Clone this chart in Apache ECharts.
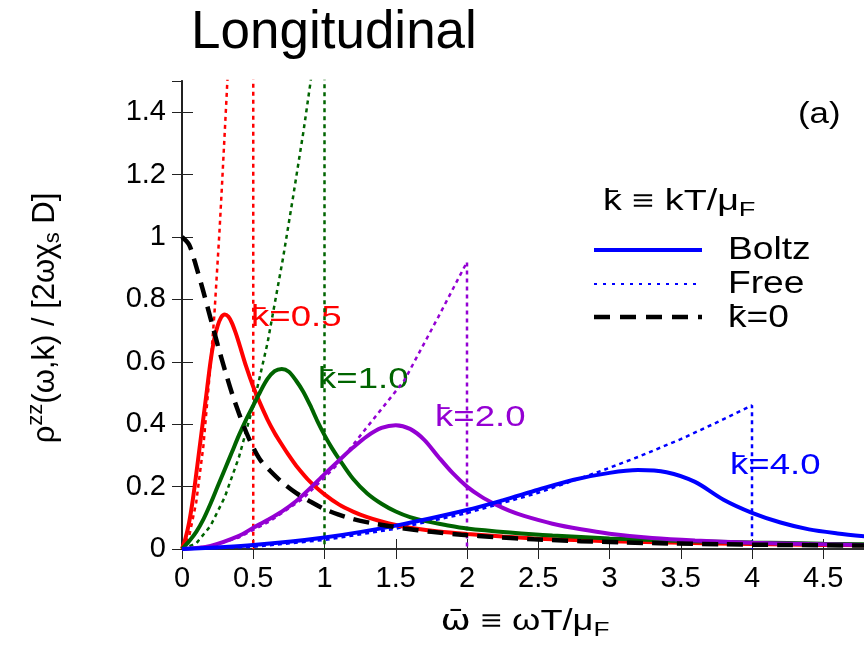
<!DOCTYPE html>
<html>
<head>
<meta charset="utf-8">
<script src="https://cdn.jsdelivr.net/npm/echarts@6/dist/echarts.min.js"></script>
<style>html,body{margin:0;padding:0;background:#fff}#c{width:864px;height:652px}</style>
</head>
<body>
<div id="c"></div>
<script>
// ---- data (x = omega-bar, y = normalized response) ----
const xTicks = [0, 0.5, 1, 1.5, 2, 2.5, 3, 3.5, 4, 4.5];
const yTicks = [0, 0.2, 0.4, 0.6, 0.8, 1, 1.2, 1.4];

const kZero = [[0,1.0],[0.05,0.975],[0.1,0.905],[0.15,0.825],[0.2,0.74],[0.25,0.655],[0.3,0.575],[0.35,0.5],[0.4,0.434],[0.45,0.375],[0.5,0.325],[0.55,0.285],[0.62,0.25],[0.7,0.215],[0.8,0.18],[0.9,0.152],[1.0,0.128],[1.1,0.11],[1.2,0.096],[1.32,0.084],[1.45,0.074],[1.56,0.066],[1.75,0.055],[1.96,0.046],[2.2,0.038],[2.47,0.031],[2.8,0.025],[3.1,0.021],[3.41,0.018],[3.8,0.015],[4.2,0.013],[4.8,0.011]];

const boltz05 = [[0,0],[0.025,0.035],[0.05,0.085],[0.075,0.155],[0.1,0.24],[0.125,0.33],[0.15,0.42],[0.175,0.51],[0.2,0.6],[0.225,0.67],[0.25,0.715],[0.275,0.743],[0.3,0.752],[0.325,0.745],[0.35,0.725],[0.375,0.695],[0.4,0.66],[0.45,0.585],[0.5,0.52],[0.55,0.465],[0.6,0.415],[0.65,0.372],[0.7,0.335],[0.75,0.3],[0.8,0.268],[0.9,0.215],[1.0,0.175],[1.1,0.143],[1.2,0.12],[1.3,0.102],[1.4,0.088],[1.5,0.077],[1.6,0.068],[1.8,0.056],[2.0,0.048],[2.25,0.04],[2.5,0.033],[3.0,0.025],[3.5,0.02],[4.0,0.016],[4.5,0.013],[4.8,0.012]];
const free05 = [[0,0],[0.05,0.04],[0.1,0.15],[0.15,0.33],[0.2,0.59],[0.227,0.75],[0.262,1.01],[0.28,1.16],[0.314,1.46],[0.35,1.8],[0.4,2.35],[0.45,3.0],[0.5,3.7],[0.5,0]];

const boltz10 = [[0,0],[0.05,0.025],[0.1,0.055],[0.15,0.095],[0.2,0.145],[0.25,0.2],[0.3,0.255],[0.35,0.31],[0.4,0.365],[0.45,0.415],[0.5,0.46],[0.55,0.505],[0.6,0.545],[0.65,0.57],[0.7,0.577],[0.75,0.568],[0.8,0.54],[0.85,0.505],[0.9,0.46],[0.95,0.41],[1.0,0.365],[1.05,0.325],[1.1,0.29],[1.2,0.225],[1.3,0.178],[1.4,0.145],[1.5,0.12],[1.6,0.102],[1.7,0.09],[1.85,0.077],[2.0,0.066],[2.3,0.053],[2.6,0.043],[3.0,0.034],[3.5,0.026],[4.0,0.021],[4.5,0.017],[4.8,0.015]];
const free10 = [[0,0],[0.1,0.018],[0.2,0.074],[0.3,0.166],[0.4,0.295],[0.5,0.46],[0.6,0.66],[0.71,0.935],[0.78,1.13],[0.853,1.34],[0.9,1.49],[0.95,1.66],[1.0,1.84],[1.0,0]];

const boltz20 = [[0,0],[0.2,0.01],[0.4,0.042],[0.5,0.068],[0.6,0.093],[0.7,0.12],[0.8,0.153],[0.9,0.195],[1.0,0.24],[1.1,0.283],[1.2,0.325],[1.3,0.362],[1.4,0.388],[1.5,0.397],[1.6,0.385],[1.7,0.35],[1.8,0.295],[1.9,0.243],[2.0,0.2],[2.1,0.168],[2.2,0.143],[2.3,0.122],[2.4,0.106],[2.6,0.081],[2.8,0.063],[3.0,0.049],[3.3,0.035],[3.6,0.027],[4.0,0.02],[4.4,0.016],[4.8,0.013]];
const free20 = [[0,0],[0.2,0.009],[0.4,0.037],[0.62,0.09],[0.85,0.162],[1.09,0.27],[1.28,0.38],[1.56,0.54],[1.8,0.745],[2.0,0.92],[2.0,0]];

const boltz40 = [[0,0],[0.5,0.013],[1.0,0.037],[1.5,0.075],[2.0,0.125],[2.25,0.156],[2.5,0.19],[2.75,0.222],[3.0,0.244],[3.2,0.253],[3.4,0.246],[3.6,0.215],[3.8,0.158],[4.0,0.116],[4.2,0.085],[4.4,0.063],[4.6,0.05],[4.8,0.04]];
const free40 = [[0,0],[0.5,0.007],[1.0,0.029],[1.5,0.065],[2.0,0.115],[2.5,0.18],[2.94,0.25],[3.2,0.295],[3.5,0.352],[3.75,0.405],[4.0,0.46],[4.0,0]];

const curveLabels = ['k\u0304=0.5', 'k\u0304=1.0', 'k\u0304=2.0', 'k\u0304=4.0'];
const legendLabels = ['Boltz', 'Free', 'k\u0304=0'];

// ---- chart ----
const RED = '#ff0000', GREEN = '#006400', PURPLE = '#9400d3', BLUE = '#0000ff';
const FONT = '"Liberation Sans", Arial, sans-serif';
const DV = '"DejaVu Sans", sans-serif';
const chart = echarts.init(document.getElementById('c'), null, {renderer: 'canvas'});

function solid(data, color, z) {
  return {type: 'line', data, showSymbol: false, smooth: 0.3, clip: true, z,
    lineStyle: {color, width: 4}, silent: true};
}
function dotted(data, color, z) {
  return {type: 'line', data, showSymbol: false, smooth: false, clip: true, z,
    lineStyle: {color, width: 2.5, type: [4, 4]}, silent: true};
}
function label(x, y, text, color, size, sx) {
  return {type: 'text', x, y, scaleX: sx, silent: true,
    style: {text, font: size + 'px ' + FONT, fill: color, verticalAlign: 'middle'}};
}

const axisLineStyle = {color: '#222', width: 1.5};
const option = {
  animation: false,
  backgroundColor: '#fff',
  grid: {left: 182, right: -2, top: 81, bottom: 103, containLabel: false, outerBoundsMode: 'none'},
  xAxis: [{
    type: 'value', min: 0, max: 4.8, interval: 0.5, position: 'bottom',
    axisLine: {show: true, lineStyle: axisLineStyle},
    axisTick: {show: true, inside: true, length: 10, lineStyle: {color: '#222', width: 1}},
    splitLine: {show: false},
    axisLabel: {fontSize: 29, color: '#000', fontFamily: FONT, margin: 15, showMaxLabel: false}
  }, {
    type: 'value', min: 0, max: 4.8, interval: 0.5, position: 'top',
    axisLine: {show: true, lineStyle: axisLineStyle},
    axisTick: {show: true, inside: true, length: 10, lineStyle: {color: '#222', width: 1}},
    splitLine: {show: false}, axisLabel: {show: false}
  }],
  yAxis: [{
    type: 'value', min: 0, max: 1.5, interval: 0.2, position: 'left',
    axisLine: {show: true, lineStyle: {color: '#222', width: 2}},
    axisTick: {show: true, inside: true, length: 11, lineStyle: {color: '#222', width: 1}},
    splitLine: {show: false},
    axisLabel: {fontSize: 29, color: '#000', fontFamily: FONT, margin: 16, showMaxLabel: false}
  }, {
    type: 'value', min: 0, max: 1.5, interval: 0.2, position: 'right',
    axisLine: {show: true, lineStyle: axisLineStyle},
    axisTick: {show: true, inside: true, length: 10, lineStyle: {color: '#222', width: 1}},
    splitLine: {show: false}, axisLabel: {show: false}
  }],
  series: [
    dotted(free05, RED, 2), dotted(free10, GREEN, 2), dotted(free20, PURPLE, 2), dotted(free40, BLUE, 2),
    solid(boltz05, RED, 3), solid(boltz10, GREEN, 3), solid(boltz20, PURPLE, 3), solid(boltz40, BLUE, 3),
    {type: 'line', data: kZero, showSymbol: false, smooth: 0.3, clip: true, z: 4, silent: true,
     lineStyle: {color: '#000', width: 4.5, type: [16, 9]}}
  ],
  graphic: [
    {type: 'text', x: 191, y: 33, silent: true,
     style: {text: 'Longitudinal', font: '53px ' + FONT, fill: '#000', verticalAlign: 'middle'}},
    // y axis title
    {type: 'text', x: 45, y: 318, rotation: Math.PI / 2, silent: true,
     style: {text: '{n|\u03c1}{sup|zz}{n|(\u03c9,k) / [2\u03c9\u03c7}{sub|s}{n| D]}', align: 'center', verticalAlign: 'middle',
       rich: {n: {fontSize: 31, fontFamily: FONT, fill: '#000'},
              sup: {fontSize: 22, fontFamily: FONT, fill: '#000', padding: [0, 0, 18, 0]},
              sub: {fontSize: 22, fontFamily: FONT, fill: '#000', padding: [16, 0, 0, 0]}}}},
    // x axis title
    {type: 'text', x: 525, y: 622, scaleX: 1.25, silent: true,
     style: {text: '{b|\u03c9\u0304}{n| \u2261 \u03c9T/\u03bc}{sub|F}', align: 'center', verticalAlign: 'middle',
       rich: {b: {fontSize: 29, fontFamily: DV, fill: '#000'},
              n: {fontSize: 29, fontFamily: FONT, fill: '#000'},
              sub: {fontSize: 21, fontFamily: FONT, fill: '#000', padding: [16, 0, 0, 0]}}}},
    label(798, 115, '(a)', '#000', 29, 1.2),
    // curve labels
    label(251, 318, curveLabels[0], RED, 30, 1.22),
    label(318, 380, curveLabels[1], GREEN, 30, 1.22),
    label(435, 418, curveLabels[2], PURPLE, 30, 1.22),
    label(730, 466, curveLabels[3], BLUE, 30, 1.22),
    // legend
    {type: 'text', x: 603, y: 202, scaleX: 1.3, silent: true,
     style: {text: '{n|k\u0304 \u2261 kT/\u03bc}{sub|F}', verticalAlign: 'middle',
       rich: {n: {fontSize: 29, fontFamily: FONT, fill: '#000'},
              sub: {fontSize: 21, fontFamily: FONT, fill: '#000', padding: [16, 0, 0, 0]}}}},
    {type: 'line', silent: true, shape: {x1: 594, y1: 250, x2: 702, y2: 250}, style: {stroke: BLUE, lineWidth: 4}},
    {type: 'line', silent: true, shape: {x1: 594, y1: 284, x2: 702, y2: 284}, style: {stroke: BLUE, lineWidth: 2, lineDash: [3, 6]}},
    {type: 'line', silent: true, shape: {x1: 594, y1: 317, x2: 702, y2: 317}, style: {stroke: '#000', lineWidth: 4.5, lineDash: [16, 10]}},
    label(728, 250, legendLabels[0], '#000', 31, 1.2),
    label(728, 284, legendLabels[1], '#000', 31, 1.2),
    label(728, 318, legendLabels[2], '#000', 31, 1.2)
  ]
};
chart.setOption(option);
</script>
</body>
</html>
